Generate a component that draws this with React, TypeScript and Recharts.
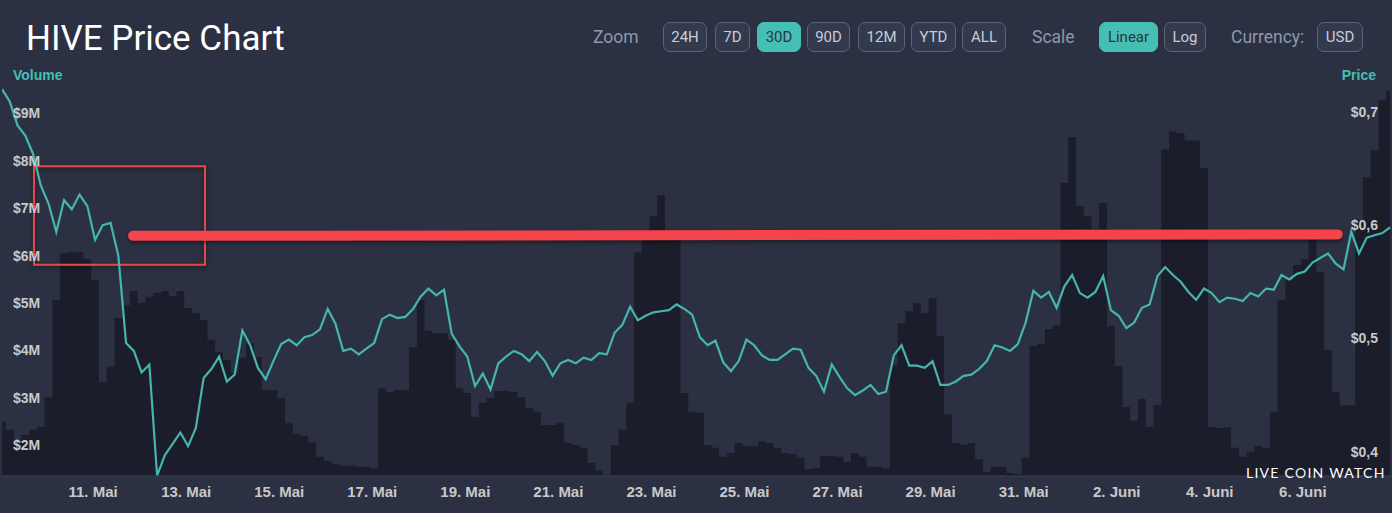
import { ComposedChart, Area, Line, XAxis, YAxis, ReferenceArea, ReferenceLine } from 'recharts'

// 4-hour samples, first one at 9. Mai ~01:00 (hours counted from 11. Mai 00:00)
const startHour = -47
const stepHours = 4

// HIVE price in USD
const priceValues = [
  0.720, 0.709, 0.688, 0.679, 0.663, 0.635, 0.619, 0.594, 0.622, 0.614,
  0.627, 0.617, 0.587, 0.600, 0.602, 0.573, 0.496, 0.489, 0.470, 0.477,
  0.379, 0.397, 0.407, 0.417, 0.405, 0.421, 0.465, 0.473, 0.484, 0.462,
  0.468, 0.507, 0.494, 0.474, 0.464, 0.480, 0.495, 0.499, 0.494, 0.501,
  0.503, 0.508, 0.526, 0.513, 0.489, 0.491, 0.486, 0.491, 0.496, 0.517,
  0.521, 0.518, 0.519, 0.526, 0.537, 0.544, 0.538, 0.543, 0.504, 0.493,
  0.484, 0.458, 0.469, 0.455, 0.478, 0.484, 0.489, 0.486, 0.480, 0.488,
  0.480, 0.467, 0.478, 0.481, 0.478, 0.483, 0.481, 0.487, 0.486, 0.505,
  0.512, 0.528, 0.516, 0.520, 0.523, 0.524, 0.525, 0.530, 0.526, 0.521,
  0.501, 0.494, 0.498, 0.479, 0.471, 0.480, 0.499, 0.494, 0.485, 0.481,
  0.481, 0.486, 0.491, 0.490, 0.474, 0.467, 0.453, 0.477, 0.466, 0.456,
  0.450, 0.454, 0.459, 0.451, 0.453, 0.485, 0.494, 0.476, 0.476, 0.474,
  0.480, 0.459, 0.459, 0.462, 0.467, 0.468, 0.473, 0.480, 0.494, 0.492,
  0.489, 0.495, 0.514, 0.542, 0.536, 0.541, 0.527, 0.546, 0.556, 0.540,
  0.536, 0.541, 0.555, 0.525, 0.520, 0.509, 0.514, 0.527, 0.530, 0.555,
  0.563, 0.556, 0.550, 0.541, 0.534, 0.544, 0.540, 0.532, 0.536, 0.535,
  0.533, 0.540, 0.537, 0.544, 0.543, 0.556, 0.552, 0.557, 0.559, 0.567,
  0.571, 0.575, 0.566, 0.561, 0.594, 0.575, 0.589, 0.591, 0.593, 0.598,
]

// trading volume in million USD
const volumeValues = [
  2.49, 2.32, 2.06, 2.21, 2.32, 2.38, 3.01, 5.06, 6.05, 6.07,
  6.07, 5.92, 5.48, 3.33, 3.65, 4.68, 4.95, 5.25, 5.00, 5.12,
  5.21, 5.25, 5.14, 5.25, 4.89, 4.78, 4.64, 4.22, 3.96, 3.79,
  3.52, 3.84, 4.15, 3.86, 3.16, 3.16, 2.99, 2.46, 2.23, 2.19,
  2.06, 1.75, 1.66, 1.60, 1.56, 1.56, 1.54, 1.54, 1.51, 3.20,
  3.12, 3.16, 3.16, 4.07, 5.06, 4.41, 4.36, 4.36, 4.22, 3.20,
  3.10, 2.59, 2.89, 2.99, 3.14, 3.14, 3.12, 3.01, 2.78, 2.70,
  2.42, 2.42, 2.46, 2.04, 2.00, 1.94, 1.62, 1.47, 1.37, 2.00,
  2.32, 2.89, 6.07, 6.35, 6.83, 7.27, 6.32, 6.32, 3.10, 2.70,
  2.68, 2.00, 1.94, 1.75, 1.83, 2.04, 1.98, 1.98, 2.08, 2.04,
  1.94, 1.83, 1.81, 1.73, 1.49, 1.51, 1.77, 1.77, 1.75, 1.64,
  1.83, 1.75, 1.54, 1.54, 1.51, 3.69, 4.57, 4.83, 5.00, 4.78,
  5.10, 4.30, 2.65, 2.04, 2.00, 2.04, 1.70, 1.43, 1.54, 1.54,
  1.41, 1.39, 1.73, 4.09, 4.13, 4.45, 4.53, 7.53, 8.50, 7.04,
  6.83, 6.56, 7.11, 4.51, 3.67, 2.80, 2.51, 2.97, 2.38, 2.84,
  8.24, 8.62, 8.58, 8.43, 8.43, 7.84, 2.38, 2.36, 2.38, 1.94,
  1.75, 1.85, 1.98, 1.94, 2.70, 5.06, 5.48, 5.80, 5.92, 6.49,
  5.65, 4.00, 3.12, 2.84, 2.84, 6.75, 7.65, 8.22, 9.28, 9.49,
]

const tickHours = [0, 48, 96, 144, 192, 240, 288, 336, 384, 432, 480, 528, 576, 624]
const tickLabels = ['11. Mai', '13. Mai', '15. Mai', '17. Mai', '19. Mai', '21. Mai', '23. Mai',
  '25. Mai', '27. Mai', '29. Mai', '31. Mai', '2. Juni', '4. Juni', '6. Juni']
const volumeTicks = [2, 3, 4, 5, 6, 7, 8, 9]
const priceTicks = [0.4, 0.5, 0.6, 0.7]

const zoomButtons = ['24H', '7D', '30D', '90D', '12M', 'YTD', 'ALL']

// hand drawn markup on top of the chart (hours / USD)
const markBox = { x1: -30.5, x2: 57.7, y1: 0.565, y2: 0.652 }
const markLine = [{ x: 20.6, y: 0.5905 }, { x: 642, y: 0.5918 }]

const data = priceValues.map((price, i) => ({
  t: startHour + i * stepHours,
  price,
  volume: volumeValues[i],
}))

const BG = '#2b3142'
const TEAL = '#45bfb4'
const tickStyle = { fill: '#c9c9c9', fontSize: 14, fontWeight: 700, fontFamily: 'Liberation Sans, Arial' }
const shadow = { filter: 'drop-shadow(0px 2px 2px rgba(0,0,0,0.45))' }

function Btn({ label, left, width, active }: { label: string; left: number; width: number; active?: boolean }) {
  return (
    <div
      style={{
        position: 'absolute', left, top: 22, width, height: 30, boxSizing: 'border-box',
        border: `1px solid ${active ? TEAL : '#5b6478'}`, borderRadius: 7,
        background: active ? TEAL : '#333a4e', color: active ? '#2c3444' : '#c8ccd8',
        fontSize: 15, display: 'flex', alignItems: 'center', justifyContent: 'center'
      }}
    >
      {label}
    </div>
  )
}

const zoomLayout = [[663, 44], [715, 35], [757, 44], [807, 43], [858, 47], [911, 45], [962, 44]]

// axis labels drawn inside the plot area
function VolumeTick({ y, payload }: any) {
  return (
    <text x={13} y={y} dy={5} textAnchor="start" {...tickStyle}>
      {`$${payload.value}M`}
    </text>
  )
}

function PriceTick({ y, payload }: any) {
  return (
    <text x={1378} y={y} dy={5} textAnchor="end" {...tickStyle}>
      {`$${payload.value.toFixed(1).replace('.', ',')}`}
    </text>
  )
}

export default function App() {
  const label = { position: 'absolute' as const, top: 27, fontSize: 17.5, color: '#8d98ae', lineHeight: '20px' }
  return (
    <div style={{ position: 'absolute', left: 0, top: 0, width: 1392, height: 513, background: BG, overflow: 'hidden', fontFamily: 'Roboto, sans-serif' }}>
      <div style={{ position: 'absolute', left: 26, top: 20.5, fontSize: 35, lineHeight: 1, color: '#fff' }}>HIVE Price Chart</div>
      <div style={{ ...label, left: 593 }}>Zoom</div>
      {zoomButtons.map((b, i) => (
        <Btn key={b} label={b} left={zoomLayout[i][0]} width={zoomLayout[i][1]} active={b === '30D'} />
      ))}
      <div style={{ ...label, left: 1032 }}>Scale</div>
      <Btn label="Linear" left={1099} width={59} active />
      <Btn label="Log" left={1164} width={42} />
      <div style={{ ...label, left: 1231 }}>Currency:</div>
      <Btn label="USD" left={1317} width={46} />

      <div style={{ position: 'absolute', left: 13, top: 67, fontSize: 14, fontWeight: 700, color: TEAL, fontFamily: 'Liberation Sans, Arial' }}>Volume</div>
      <div style={{ position: 'absolute', right: 16, top: 67, fontSize: 14, fontWeight: 700, color: TEAL, fontFamily: 'Liberation Sans, Arial' }}>Price</div>

      <ComposedChart width={1392} height={513} data={data} margin={{ top: 66, right: 0, bottom: 0, left: 2 }}>
        <XAxis
          dataKey="t"
          type="number"
          domain={[-47, 670]}
          allowDataOverflow
          ticks={tickHours}
          tickFormatter={(v) => tickLabels[tickHours.indexOf(v)]}
          tick={{ ...tickStyle, fontSize: 15 }}
          tickLine={false}
          tickSize={0}
          tickMargin={10}
          axisLine={{ stroke: '#3a4256' }}
          height={37}
        />
        <YAxis
          yAxisId="vol"
          orientation="left"
          mirror
          width={60}
          domain={[1.346, 10]}
          allowDataOverflow
          ticks={volumeTicks}
          interval={0}
          tick={<VolumeTick />}
          tickLine={false}
          axisLine={false}
        />
        <YAxis
          yAxisId="price"
          orientation="right"
          mirror
          width={60}
          domain={[0.3786, 0.7404]}
          allowDataOverflow
          ticks={priceTicks}
          interval={0}
          tick={<PriceTick />}
          tickLine={false}
          axisLine={false}
        />
        <Area
          yAxisId="vol"
          dataKey="volume"
          type="step"
          stroke="none"
          fill="#1b1d2a"
          fillOpacity={1}
          isAnimationActive={false}
        />
        <Line
          yAxisId="price"
          dataKey="price"
          type="linear"
          stroke="#45b5ad"
          strokeWidth={2.2}
          dot={false}
          activeDot={false}
          isAnimationActive={false}
        />
        <ReferenceArea
          yAxisId="price"
          x1={markBox.x1}
          x2={markBox.x2}
          y1={markBox.y1}
          y2={markBox.y2}
          fill="none"
          stroke="#e8474a"
          strokeWidth={2}
          fillOpacity={0}
          ifOverflow="visible"
          style={shadow}
        />
        <ReferenceLine
          yAxisId="price"
          segment={markLine}
          stroke="#f4434a"
          strokeWidth={10}
          strokeLinecap="round"
          ifOverflow="visible"
          style={shadow}
        />
      </ComposedChart>

      <div style={{ position: 'absolute', left: 1246, top: 464, fontSize: 14, letterSpacing: 1.25, whiteSpace: 'nowrap', color: '#fff', fontFamily: 'Lato, sans-serif' }}>
        LIVE C<span style={{ color: '#e8f6f5' }}>O</span>IN WATCH
      </div>
    </div>
  )
}
